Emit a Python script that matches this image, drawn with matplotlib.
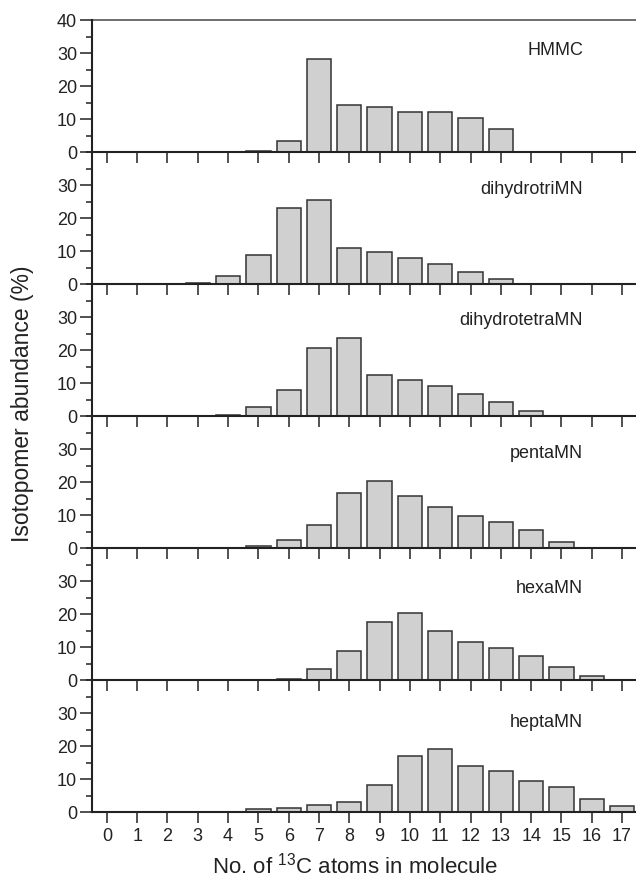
import numpy as np
import matplotlib.pyplot as plt
from matplotlib.ticker import MultipleLocator

plt.rcParams['font.family'] = ['Liberation Sans', 'DejaVu Sans']
plt.rcParams['mathtext.fontset'] = 'custom'
plt.rcParams['mathtext.rm'] = 'Liberation Sans'

n13c = list(range(18))
names = ["HMMC", "dihydrotriMN", "dihydrotetraMN", "pentaMN", "hexaMN", "heptaMN"]
hmmc = [0, 0, 0, 0, 0, 0.3, 3.3, 28.3, 14.4, 13.5, 12.1, 12.0, 10.2, 7.1, 0, 0, 0, 0]
dihydrotri = [0, 0, 0, 0.3, 2.6, 8.8, 23.0, 25.5, 10.8, 9.7, 8.0, 6.1, 3.7, 1.4, 0, 0, 0, 0]
dihydrotetra = [0, 0, 0, 0, 0.4, 2.7, 7.9, 20.5, 23.6, 12.6, 10.8, 9.0, 6.8, 4.2, 1.5, 0, 0, 0]
penta = [0, 0, 0, 0, 0, 0.7, 2.6, 6.9, 16.7, 20.3, 15.9, 12.5, 9.8, 8.0, 5.4, 1.9, 0, 0]
hexa = [0, 0, 0, 0, 0, 0, 0.4, 3.5, 9.0, 17.5, 20.5, 14.9, 11.7, 9.9, 7.2, 4.1, 1.4, 0]
hepta = [0, 0, 0, 0, 0, 0.9, 1.4, 2.2, 3.0, 8.3, 17.0, 19.1, 14.1, 12.4, 9.4, 7.6, 4.1, 1.8]
series = [hmmc, dihydrotri, dihydrotetra, penta, hexa, hepta]

W, H = 636, 883
fig = plt.figure(figsize=(W / 100, H / 100), dpi=100)

left_px, top_px, bottom_px = 91.7, 20, 812.3
panel_h = (bottom_px - top_px) / 6
label_gap = [30, 37, 36, 37, 40, 42]  # px from panel top to label centre

ink = "#222222"
for i, (name, vals) in enumerate(zip(names, series)):
    y0 = top_px + i * panel_h
    ax = fig.add_axes([left_px / W, 1 - (y0 + panel_h) / H, 1 - left_px / W, panel_h / H])
    ax.patch.set_facecolor("none")
    ax.bar(n13c, vals, width=0.8, color="#d0d0d0", edgecolor="#333333", linewidth=1.1, zorder=2)
    ax.set_xlim(-0.5, 17.46)
    ax.set_ylim(0, 40)
    ax.xaxis.set_major_locator(MultipleLocator(1))
    ax.yaxis.set_minor_locator(MultipleLocator(5))
    if i == 0:
        ax.set_yticks([0, 10, 20, 30, 40])
        ax.spines["top"].set_color("#555555")
        ax.spines["top"].set_linewidth(1.2)
    else:
        ax.set_yticks([0, 10, 20, 30])
        ax.spines["top"].set_visible(False)
    ax.spines["right"].set_visible(False)
    for s in ("left", "bottom"):
        ax.spines[s].set_linewidth(1.5)
        ax.spines[s].set_color(ink)
        ax.spines[s].set_zorder(3)
    ax.tick_params(axis="y", which="major", direction="out", length=8.6, width=1.1,
                   labelsize=13, colors=ink, pad=2)
    ax.tick_params(axis="y", which="minor", direction="out", length=4.3, width=1.1, colors=ink)
    ax.tick_params(axis="x", which="major", direction="out", length=8, width=1.1,
                   labelsize=13, colors=ink, pad=3, labelbottom=(i == 5))
    ax.text((583 - left_px) / (W - left_px), 1 - label_gap[i] / panel_h, name,
            transform=ax.transAxes, ha="right", va="center", fontsize=13, color=ink)

fig.text(355 / W, 1 - 866 / H, r"No. of $\mathregular{^{13}}$C atoms in molecule",
         ha="center", va="center", fontsize=16, color=ink)
fig.text(23 / W, 1 - 404 / H, "Isotopomer abundance (%)", rotation=90,
         ha="center", va="center", fontsize=16.5, color=ink)

fig.savefig("out.png", dpi=100)
